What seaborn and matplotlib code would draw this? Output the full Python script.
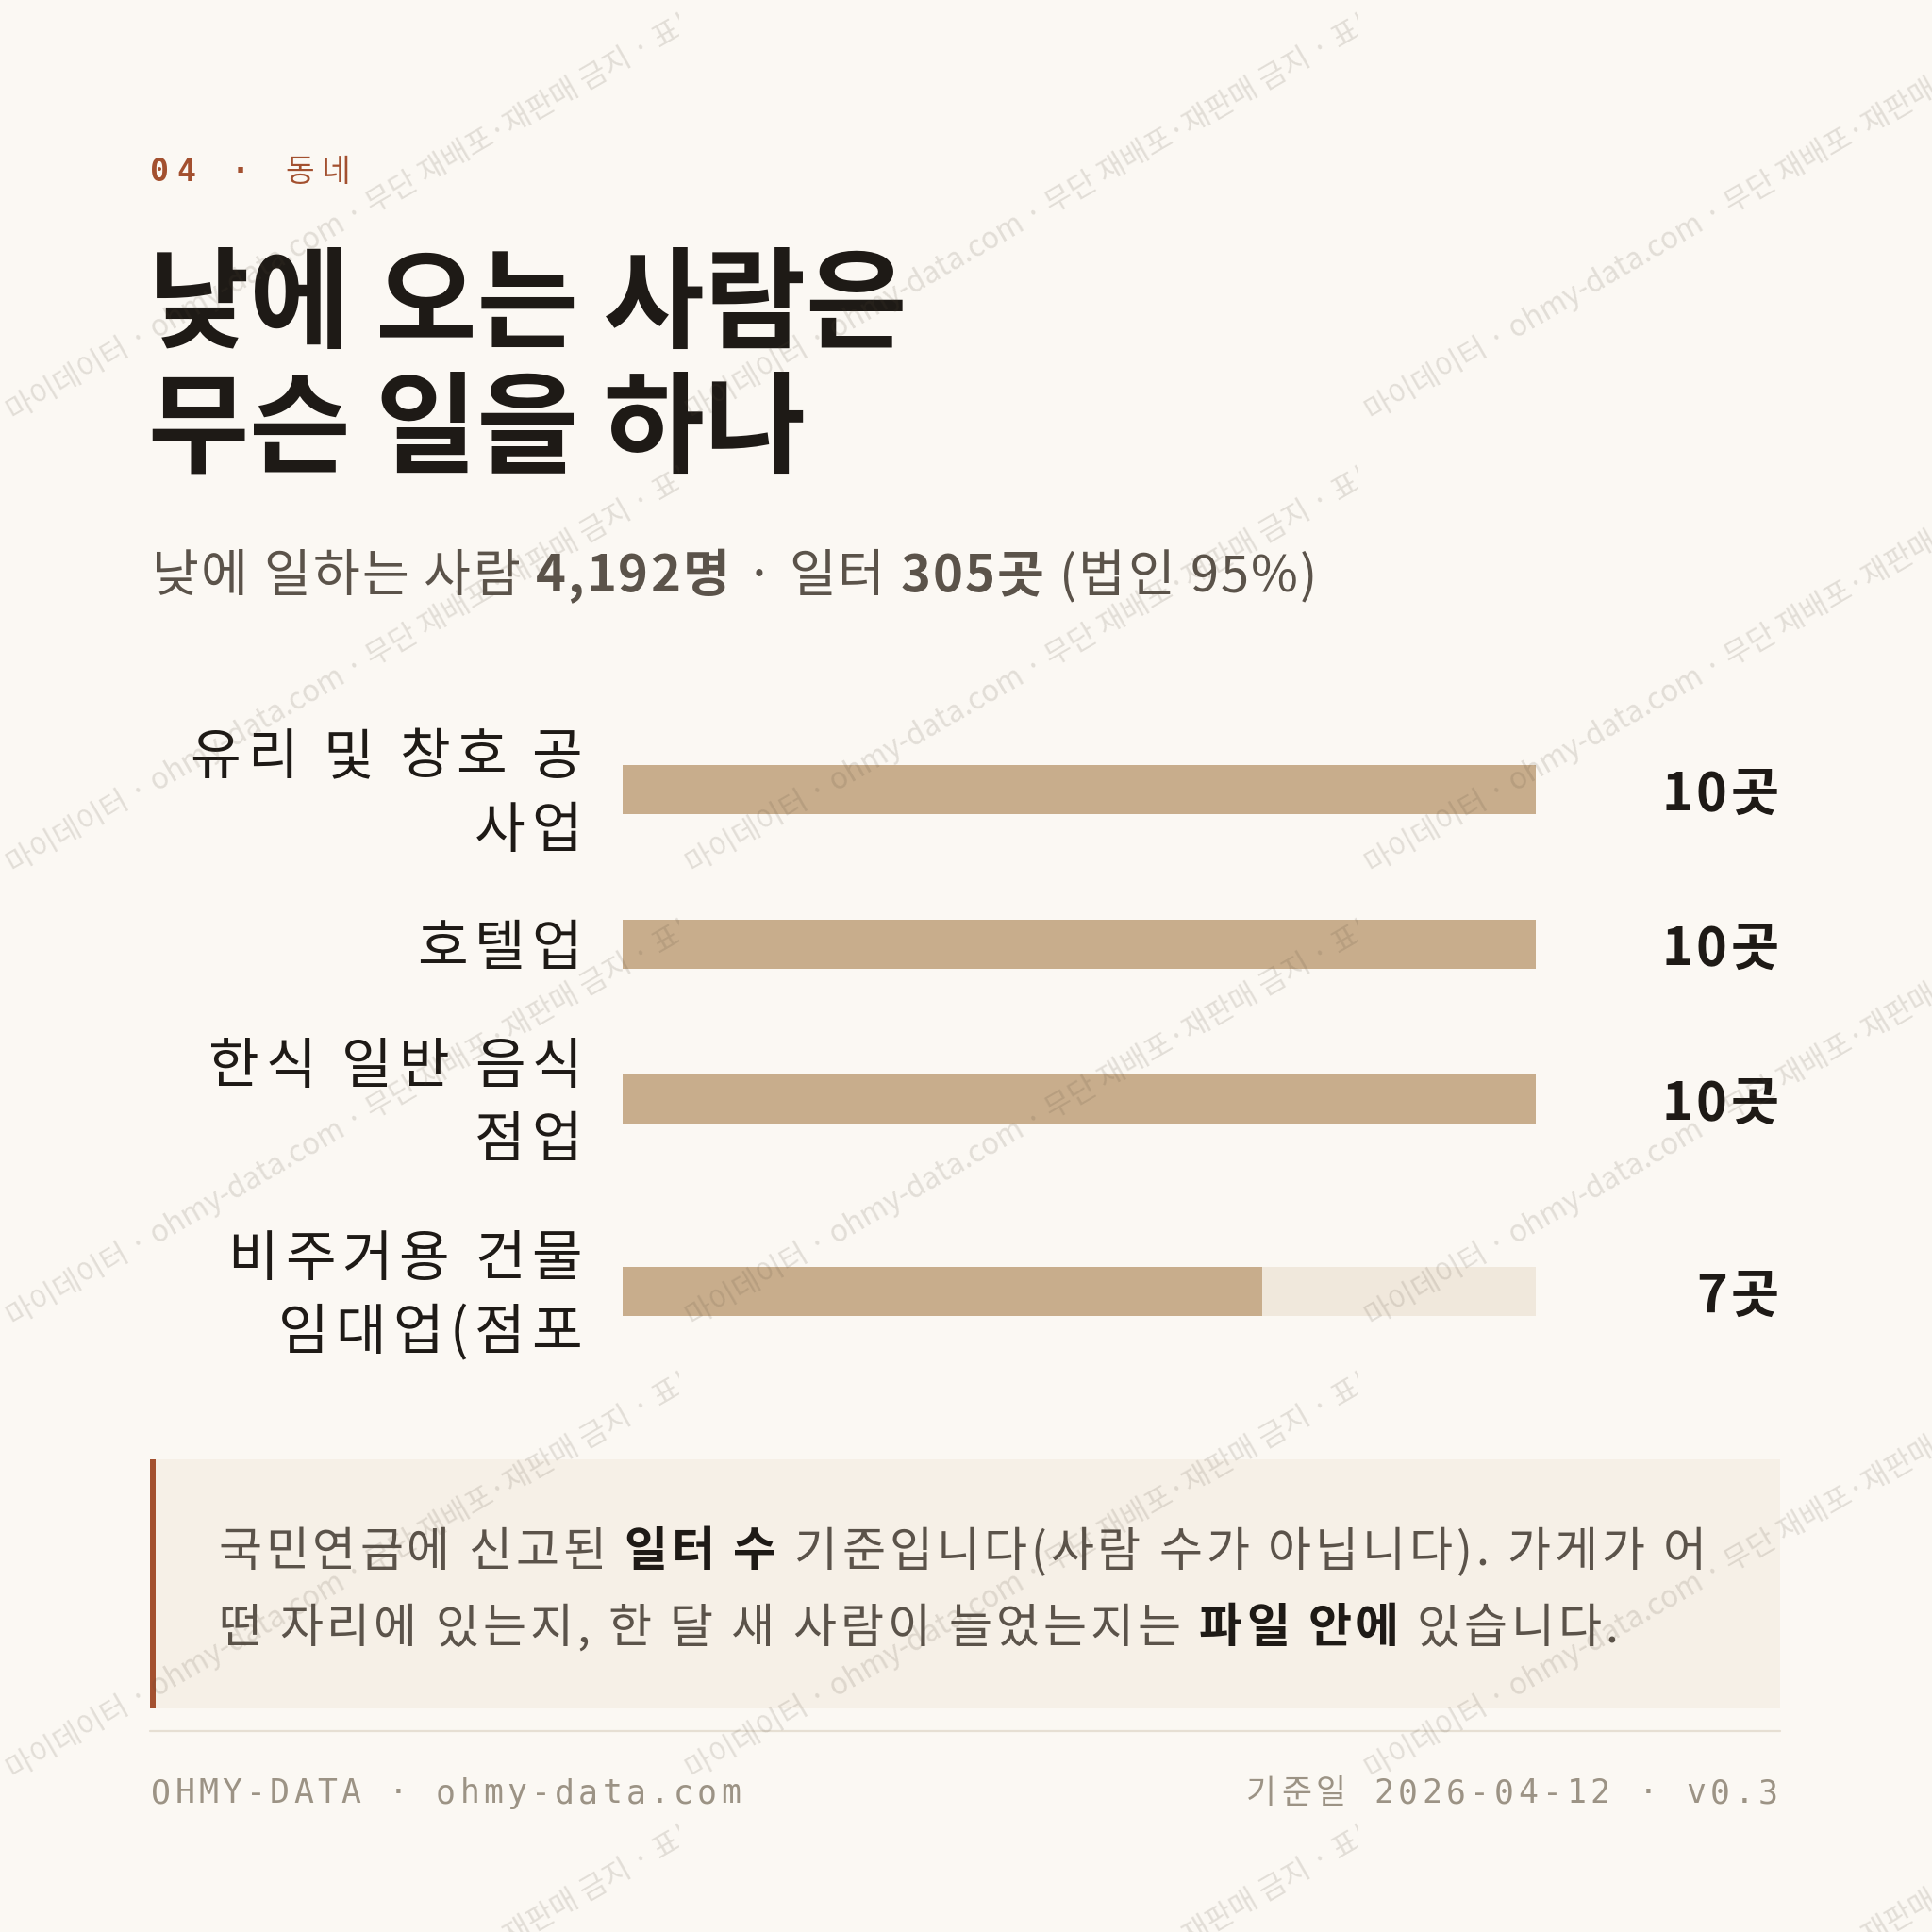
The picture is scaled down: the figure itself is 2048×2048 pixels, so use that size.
import matplotlib
matplotlib.use('Agg')
import matplotlib.pyplot as plt
import seaborn as sns
import pandas as pd
import numpy as np
from matplotlib.transforms import Bbox
from matplotlib.patches import Rectangle
from matplotlib.lines import Line2D

# ---- chart data ----
industries = ['유리 및 창호 공\n사업', '호텔업', '한식 일반 음식\n점업', '비주거용 건물\n임대업(점포']
counts = [10, 10, 10, 7]
scale_max = 10
unit = '곳'

title_lines = ['낮에 오는 사람은', '무슨 일을 하나']
subtitle_runs = [('낮에 일하는 사람 ', 'regular'), ('4,192명', 'bold'),
                 (' · 일터 ', 'regular'), ('305곳', 'bold'), (' (법인 95%)', 'regular')]
note_lines = [
    [('국민연금에 신고된 ', 'regular'), ('일터 수', 'bold'), (' 기준입니다(사람 수가 아닙니다). 가게가 어', 'regular')],
    [('떤 자리에 있는지, 한 달 새 사람이 늘었는지는 ', 'regular'), ('파일 안에', 'bold'), (' 있습니다.', 'regular')],
]
footer_left = 'OHMY-DATA · ohmy-data.com'
footer_right = '기준일 2026-04-12 · v0.3'
watermark = '마이데이터 · ohmy-data.com · 무단 재배포·재판매 금지 · 표본'

# ---- style ----
W = H = 2048
DPI = 100
BG = '#FBF8F3'
INK = '#1E1A16'
SUB = '#5B534A'
RUST = '#A3502F'
BAR = '#C8AD8C'
TRACK = '#F0E8DC'
NOTE_BG = '#F6F0E7'
RULE = '#E6DFD3'
FOOT = '#9C9385'
KR = ['Noto Sans CJK KR', 'DejaVu Sans']
MONO = ['DejaVu Sans Mono', 'Noto Sans CJK KR']

sns.set_theme(style='white')
plt.rcParams['font.family'] = KR

fig = plt.figure(figsize=(W / DPI, H / DPI), dpi=DPI, facecolor=BG)
renderer = fig.canvas.get_renderer()


def fy(y):
    return 1 - y / H


def text_w(s, **kw):
    t1 = fig.text(0, 0, s + '|', **kw)
    w1 = t1.get_window_extent(renderer).width
    t1.remove()
    t2 = fig.text(0, 0, '|', **kw)
    w2 = t2.get_window_extent(renderer).width
    t2.remove()
    return w1 - w2


def draw_runs(x, y, runs, size, family=KR, tracking=0, draw=True, zorder=3):
    """Draw (text, weight, color) runs left to right on a baseline; returns end x."""
    for s, weight, color in runs:
        pieces = list(s) if tracking else [s]
        for p in pieces:
            kw = dict(fontsize=size, fontweight=weight, color=color, family=family)
            if draw:
                fig.text(x / W, fy(y), p, ha='left', va='baseline', zorder=zorder, **kw)
            x += text_w(p, **kw) + tracking
    return x


def draw_runs_right(xr, y, runs, size, family=KR, tracking=0):
    w = draw_runs(0, y, runs, size, family=family, tracking=tracking, draw=False) - tracking
    draw_runs(xr - w, y, runs, size, family=family, tracking=tracking)


# ---- header ----
draw_runs(159, 192, [('04', 'bold', RUST), (' · ', 'bold', RUST), ('동네', 'regular', RUST)],
          24, family=MONO, tracking=8.5)

for i, line in enumerate(title_lines):
    fig.text(157 / W, fy(360 + i * 132), line, ha='left', va='baseline',
             fontsize=84, fontweight='bold', color=INK, family=KR)

draw_runs(161, 627, [(s, w, SUB) for s, w in subtitle_runs], 39, tracking=2.1)

# ---- bars ----
line_h, gap, top = 80, 44, 757
n_lines = [s.count('\n') + 1 for s in industries]
centers = []
y = top
for n in n_lines:
    centers.append(y + n * line_h / 2)
    y += n * line_h + gap

df = pd.DataFrame({'industry': industries, 'count': counts, 'pos': centers,
                   'track': [scale_max] * len(counts)})

ax = fig.add_axes([660 / W, 0, (1628 - 660) / W, 1])
bar_w = 52 / np.diff(sorted(centers)).min()
sns.barplot(data=df, x='track', y='pos', orient='h', native_scale=True, color=TRACK,
            saturation=1, width=bar_w, linewidth=0, ax=ax)
sns.barplot(data=df, x='count', y='pos', orient='h', native_scale=True, color=BAR,
            saturation=1, width=bar_w, linewidth=0, ax=ax)
ax.set_xlim(0, scale_max)
ax.set_ylim(H, 0)
ax.axis('off')

lab_pt = 42
lab_e = lab_pt * DPI / 72
for name, c, v in zip(df['industry'], df['pos'], df['count']):
    parts = name.split('\n')
    for j, part in enumerate(parts):
        lc = c + (j - (len(parts) - 1) / 2) * 78
        draw_runs_right(617, lc + 0.38 * lab_e, [(part, 'regular', INK)], lab_pt, tracking=6.8)
    draw_runs_right(1886, c + 22, [(f'{v}{unit}', 'bold', INK)], 40, tracking=4)

# ---- note box ----
fig.add_artist(Rectangle((159 / W, fy(1811)), (1887 - 159) / W, (1811 - 1547) / H,
                         transform=fig.transFigure, facecolor=NOTE_BG, edgecolor='none', zorder=1))
fig.add_artist(Rectangle((159 / W, fy(1811)), 6 / W, (1811 - 1547) / H,
                         transform=fig.transFigure, facecolor=RUST, edgecolor='none', zorder=1.5))
for i, line in enumerate(note_lines):
    draw_runs(231, 1660 + i * 81,
              [(s, w, INK if w == 'bold' else SUB) for s, w in line], 36, tracking=4)

# ---- footer ----
fig.add_artist(Line2D([159 / W, 1887 / W], [fy(1835)] * 2, color=RULE, lw=1.6,
                      transform=fig.transFigure))
draw_runs(160, 1911, [(footer_left, 'regular', FOOT)], 25, family=MONO, tracking=4.3)
draw_runs_right(1885, 1911, [(footer_right, 'regular', FOOT)], 25, family=MONO, tracking=4.6)

# ---- watermark tiles ----
tile_w, tile_h = 720, 480
for tx in range(0, W, tile_w):
    for ty in range(0, W + tile_h, tile_h):
        t = fig.text((tx + 14) / W, fy(ty + 447), watermark, rotation=30, rotation_mode='anchor',
                     ha='left', va='baseline', fontsize=22.5, color=(0.33, 0.28, 0.22, 0.15),
                     family=KR, zorder=10)
        t.set_clip_box(Bbox.from_extents(tx, H - (ty + tile_h), tx + tile_w, H - ty))
        t.set_clip_on(True)

fig.savefig('out.png', dpi=DPI, facecolor=BG)
